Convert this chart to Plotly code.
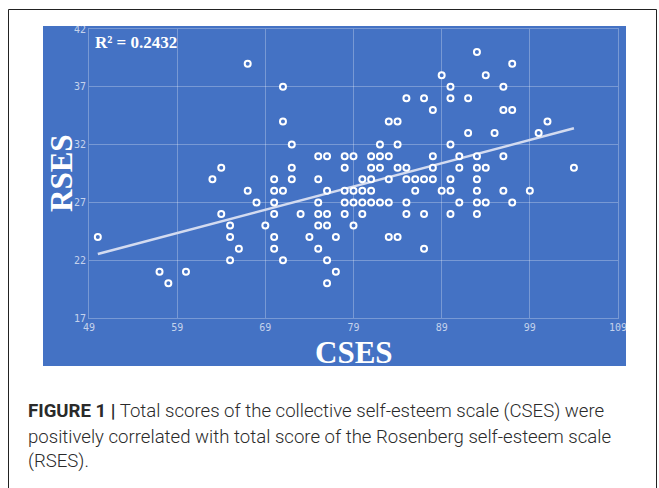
import numpy as np
import plotly.graph_objects as go

# CSES (x) and RSES (y) scores
cses = [50, 57, 58, 60, 63, 64, 64, 65, 65, 65, 66, 67, 67, 68, 69,
        70, 70, 70, 70, 70, 70, 71, 71, 71, 71, 72, 72, 72, 73, 74,
        75, 75, 75, 75, 75, 75, 76, 76, 76, 76, 76, 76, 77, 77,
        93, 97, 89, 94, 90, 96, 85, 87, 90, 92, 88, 96, 97,
        83, 84, 101, 92, 95, 100, 82, 84, 90,
        78, 79, 81, 82, 83, 88, 91, 93, 96,
        78, 81, 82, 84, 85, 88, 91, 93, 94, 104,
        80, 81, 83, 85, 86, 87, 88, 90, 93,
        78, 79, 80, 81, 86, 89, 90, 93, 96, 99,
        78, 79, 80, 81, 82, 83, 85, 91, 93, 94, 97,
        78, 80, 85, 87, 90, 93,
        79, 83, 84, 87]
rses = [24, 21, 20, 21, 29, 30, 26, 25, 24, 22, 23, 39, 28, 27, 25,
        29, 28, 27, 26, 24, 23, 37, 34, 28, 22, 32, 30, 29, 26, 24,
        31, 29, 27, 26, 25, 23, 31, 28, 26, 25, 22, 20, 24, 21,
        40, 39, 38, 38, 37, 37, 36, 36, 36, 36, 35, 35, 35,
        34, 34, 34, 33, 33, 33, 32, 32, 32,
        31, 31, 31, 31, 31, 31, 31, 31, 31,
        30, 30, 30, 30, 30, 30, 30, 30, 30, 30,
        29, 29, 29, 29, 29, 29, 29, 29, 29,
        28, 28, 28, 28, 28, 28, 28, 28, 28, 28,
        27, 27, 27, 27, 27, 27, 27, 27, 27, 27, 27,
        26, 26, 26, 26, 26, 26,
        25, 24, 24, 23]

x_ticks = [49, 59, 69, 79, 89, 99, 109]
y_ticks = [17, 22, 27, 32, 37, 42]
r2_label = "R² = 0.2432"
x_title = "CSES"
y_title = "RSES"
caption_lines = [
    "<b>FIGURE 1 |</b> Total scores of the collective self-esteem scale (CSES) were",
    "positively correlated with total score of the Rosenberg self-esteem scale",
    "(RSES).",
]

# linear trend line fitted to the data
slope, intercept = np.polyfit(cses, rses, 1)
trend_x = [min(cses), max(cses)]
trend_y = [intercept + slope * v for v in trend_x]

BLUE = "#4472C4"
W, H = 659, 488
L, R, T, B = 89, 41, 29, 170
pw, ph = W - L - R, H - T - B

def px2x(px):
    return (px - L) / pw

def py2y(py):
    return (H - B - py) / ph

fig = go.Figure()
fig.add_trace(go.Scatter(
    x=trend_x, y=trend_y, mode="lines",
    line=dict(color="#d3dbf0", width=2.5), hoverinfo="skip"))
fig.add_trace(go.Scatter(
    x=cses, y=rses, mode="markers",
    marker=dict(symbol="circle", size=6, color=BLUE,
                line=dict(color="white", width=2))))

grid = "rgba(255,255,255,0.28)"
tickfont = dict(family="DejaVu Sans Mono", size=10, color="rgba(255,255,255,0.7)")
fig.update_xaxes(range=[49, 109], tickvals=x_ticks, showgrid=True, gridcolor=grid,
                 gridwidth=1, zeroline=False, showline=True, linecolor=grid,
                 mirror=True, tickfont=tickfont, ticks="")
fig.update_yaxes(range=[17, 42], tickvals=y_ticks, showgrid=True, gridcolor=grid,
                 gridwidth=1, zeroline=False, showline=True, linecolor=grid,
                 mirror=True, tickfont=tickfont, ticks="")

shapes = [
    dict(type="rect", xref="paper", yref="paper", layer="below",
         x0=px2x(43), x1=px2x(626), y0=py2y(366), y1=py2y(26),
         fillcolor=BLUE, line=dict(width=0)),
    dict(type="rect", xref="paper", yref="paper", layer="above",
         x0=px2x(8.5), x1=px2x(656.5), y0=py2y(495), y1=py2y(9.5),
         fillcolor="rgba(0,0,0,0)", line=dict(color="#222", width=1)),
]

annotations = [
    dict(text=f"<b>{r2_label}</b>", xref="paper", yref="paper",
         x=px2x(93), y=py2y(43), xanchor="left", yanchor="middle", showarrow=False,
         font=dict(family="Liberation Serif", size=17, color="white")),
    dict(text=f"<b>{x_title}</b>", xref="paper", yref="paper",
         x=px2x(354), y=py2y(352), xanchor="center", yanchor="middle", showarrow=False,
         font=dict(family="Liberation Serif", size=31, color="white")),
    dict(text=f"<b>{y_title}</b>", xref="paper", yref="paper", textangle=-90,
         x=px2x(61), y=py2y(173), xanchor="center", yanchor="middle", showarrow=False,
         font=dict(family="Liberation Serif", size=31, color="white")),
]
for i, (line, py) in enumerate(zip(caption_lines, [411, 436.5, 461])):
    annotations.append(dict(
        text=line, xref="paper", yref="paper", x=px2x(26), y=py2y(py),
        xanchor="left", yanchor="middle", showarrow=False, align="left",
        font=dict(family="Roboto", size=18.6, color="#2a2a2a", weight=300)))

fig.update_layout(
    width=W, height=H, margin=dict(l=L, r=R, t=T, b=B),
    paper_bgcolor="white", plot_bgcolor=BLUE, showlegend=False,
    shapes=shapes, annotations=annotations)

fig.write_html("out.html", config={"displayModeBar": False},
               post_script="document.body.style.margin='0';document.body.style.overflow='hidden';")
